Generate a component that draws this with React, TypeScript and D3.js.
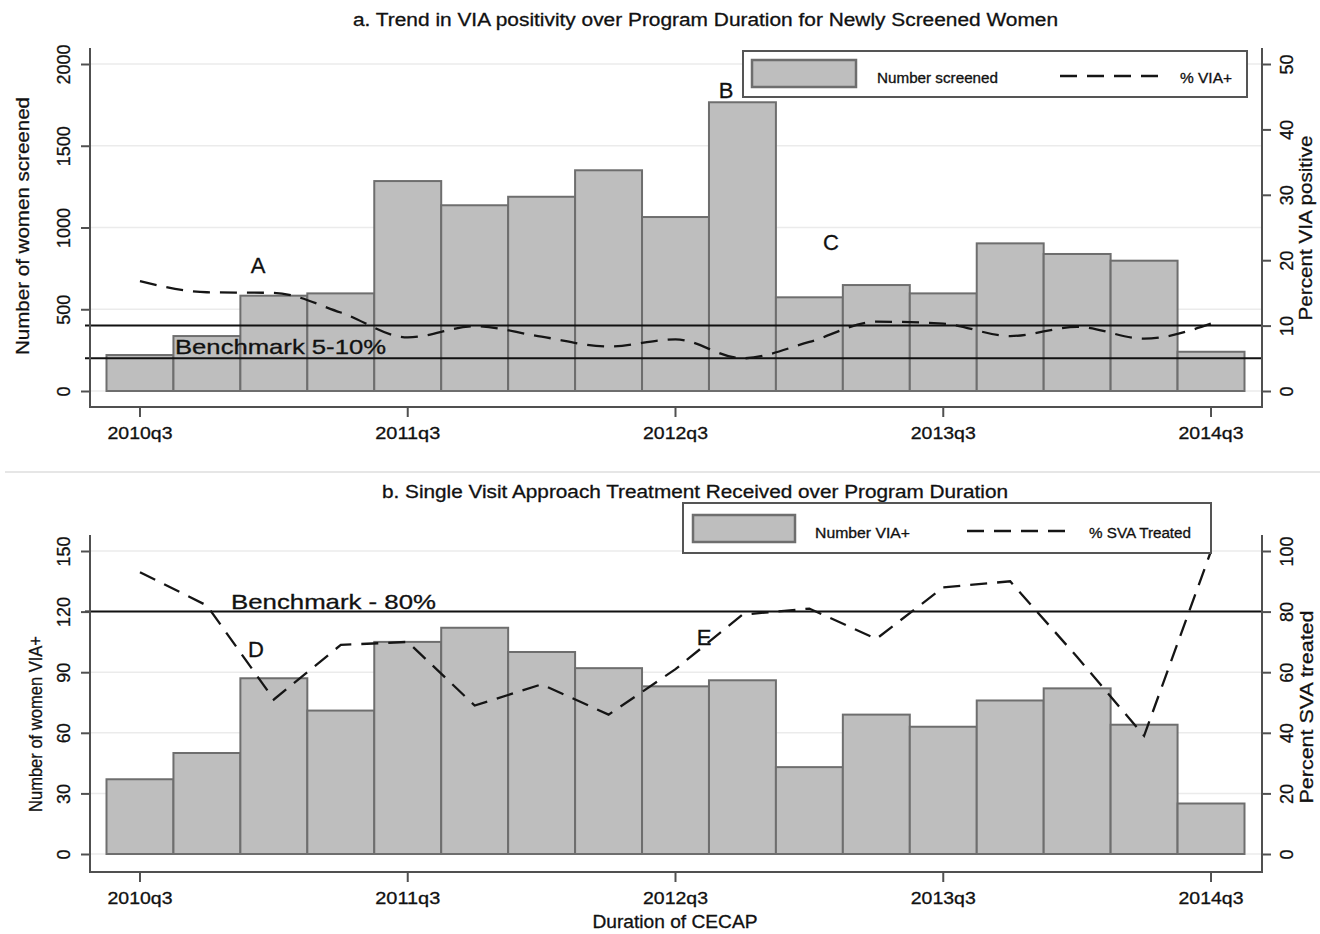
import React, { useEffect, useRef } from 'react';
import * as d3 from 'd3';

const quarters = ['2010q3', '2010q4', '2011q1', '2011q2', '2011q3', '2011q4', '2012q1', '2012q2', '2012q3',
  '2012q4', '2013q1', '2013q2', '2013q3', '2013q4', '2014q1', '2014q2', '2014q3'];
const tickQuarters = ['2010q3', '2011q3', '2012q3', '2013q3', '2014q3'];

// panel a
const numberScreened = [220, 336, 583, 597, 1284, 1136, 1188, 1350, 1064, 1766, 573, 648, 597, 903, 838, 797, 240];
const pctViaPositive = [16.8, 15.1, 15.0, 12.0, 8.2, 9.9, 8.3, 6.8, 7.9, 5.0, 7.5, 10.6, 10.3, 8.4, 9.8, 8.0, 10.3];
const leftTicksA = [0, 500, 1000, 1500, 2000];
const rightTicksA = [0, 10, 20, 30, 40, 50];
const benchmarksA = [5, 10];

// panel b
const numberViaPositive = [37, 50, 87, 71, 105, 112, 100, 92, 83, 86, 43, 69, 63, 76, 82, 64, 25];
const pctSvaTreated = [93, 82, 51, 69, 70, 49, 56, 46, 61, 79, 81, 71, 88, 90, 65, 39, 100];
const leftTicksB = [0, 30, 60, 90, 120, 150];
const rightTicksB = [0, 20, 40, 60, 80, 100];
const benchmarksB = [80];

const FONT = '"Liberation Sans", Arial, Helvetica, sans-serif';
const AXIS = '#505050';
const BAR_FILL = '#bebebe';
const BAR_EDGE = '#6e6e6e';
const LEFT = 90, RIGHT = 1262;

type Label = { text: string; x: number; y: number; len?: number; size?: number; anchor?: string };

type PanelDef = {
  top: number; bottom: number; y0: number; yTop: number;
  bars: number[]; pct: number[];
  leftTicks: number[]; rightTicks: number[]; benchmarks: number[];
  curve: d3.CurveFactory;
  title: Label; leftTitle: Label; rightTitle: Label;
  notes: Label[];
  legend: { box: number[]; swatch: number[]; name: Label; dash: number[]; pctName: Label };
};

const panels: PanelDef[] = [
  {
    top: 48, bottom: 407, y0: 391, yTop: 64,
    bars: numberScreened, pct: pctViaPositive,
    leftTicks: leftTicksA, rightTicks: rightTicksA, benchmarks: benchmarksA,
    curve: d3.curveMonotoneX,
    title: { text: 'a.  Trend in VIA positivity over Program Duration for Newly Screened Women', x: 353, y: 26, len: 705, size: 18 },
    leftTitle: { text: 'Number of women screened', x: 29, y: 226, len: 258, size: 19 },
    rightTitle: { text: 'Percent VIA positive', x: 1312, y: 228, len: 185, size: 19 },
    notes: [
      { text: 'A', x: 258, y: 273, size: 22, anchor: 'middle' },
      { text: 'B', x: 726, y: 98, size: 22, anchor: 'middle' },
      { text: 'C', x: 831, y: 250, size: 22, anchor: 'middle' },
      { text: 'Benchmark 5-10%', x: 175, y: 354, len: 211, size: 21 },
    ],
    legend: {
      box: [743, 51, 1247, 97], swatch: [752, 60, 856, 87],
      name: { text: 'Number screened', x: 877, y: 83, len: 121, size: 14 },
      dash: [1060, 1159, 76],
      pctName: { text: '% VIA+', x: 1180, y: 83, len: 52, size: 14 },
    },
  },
  {
    top: 535, bottom: 872, y0: 854, yTop: 551,
    bars: numberViaPositive, pct: pctSvaTreated,
    leftTicks: leftTicksB, rightTicks: rightTicksB, benchmarks: benchmarksB,
    curve: d3.curveLinear,
    title: { text: 'b.  Single Visit Approach Treatment Received over Program Duration', x: 382, y: 498, len: 626, size: 18 },
    leftTitle: { text: 'Number of women VIA+', x: 42, y: 724, len: 176, size: 19 },
    rightTitle: { text: 'Percent SVA treated', x: 1313, y: 707, len: 193, size: 19 },
    notes: [
      { text: 'D', x: 256, y: 657, size: 22, anchor: 'middle' },
      { text: 'E', x: 704, y: 645, size: 22, anchor: 'middle' },
      { text: 'Benchmark - 80%', x: 231, y: 609, len: 205, size: 21 },
    ],
    legend: {
      box: [683, 503, 1211, 553], swatch: [693, 515, 795, 542],
      name: { text: 'Number VIA+', x: 815, y: 538, len: 95, size: 14 },
      dash: [967, 1066, 531],
      pctName: { text: '% SVA Treated', x: 1089, y: 538, len: 102, size: 14 },
    },
  },
];

const addText = (g: any, l: Label, rotate = false) => {
  const t = g.append('text')
    .attr('font-family', FONT)
    .attr('font-size', l.size ?? 18)
    .attr('fill', '#111')
    .attr('stroke', '#111').attr('stroke-width', 0.3)
    .attr('text-anchor', l.anchor ?? (rotate ? 'middle' : 'start'))
    .attr('transform', rotate ? `translate(${l.x},${l.y}) rotate(-90)` : `translate(${l.x},${l.y})`)
    .text(l.text);
  if (l.len) t.attr('textLength', l.len).attr('lengthAdjust', 'spacingAndGlyphs');
  return t;
};

const drawPanel = (svg: any, p: PanelDef) => {
  const g = svg.append('g');
  const x = d3.scaleBand().domain(quarters).range([106.5, 1244.5]).paddingInner(0).paddingOuter(0);
  const maxLeft = p.leftTicks[p.leftTicks.length - 1];
  const maxRight = p.rightTicks[p.rightTicks.length - 1];
  const yLeft = d3.scaleLinear().domain([0, maxLeft]).range([p.y0, p.yTop]);
  const yRight = d3.scaleLinear().domain([0, maxRight]).range([p.y0, p.yTop]);

  // gridlines
  g.append('g').selectAll('line').data(p.leftTicks).join('line')
    .attr('x1', LEFT).attr('x2', RIGHT)
    .attr('y1', (d: number) => yLeft(d)).attr('y2', (d: number) => yLeft(d))
    .attr('stroke', '#ebebeb').attr('stroke-width', 1.5);

  // bars
  g.append('g').selectAll('rect').data(p.bars).join('rect')
    .attr('x', (_: number, i: number) => x(quarters[i])!)
    .attr('width', x.bandwidth())
    .attr('y', (d: number) => yLeft(d))
    .attr('height', (d: number) => yLeft(0) - yLeft(d))
    .attr('fill', BAR_FILL).attr('stroke', BAR_EDGE).attr('stroke-width', 2);

  // benchmark lines
  g.append('g').selectAll('line').data(p.benchmarks).join('line')
    .attr('x1', LEFT - 5).attr('x2', RIGHT + 1)
    .attr('y1', (d: number) => yRight(d)).attr('y2', (d: number) => yRight(d))
    .attr('stroke', '#111').attr('stroke-width', 2);

  // percent line
  const line = d3.line<number>()
    .x((_, i) => x(quarters[i])! + x.bandwidth() / 2)
    .y(d => yRight(d))
    .curve(p.curve);
  g.append('path').datum(p.pct).attr('d', line)
    .attr('fill', 'none').attr('stroke', '#151515').attr('stroke-width', 2.3)
    .attr('stroke-dasharray', '17 10');

  // axes
  const styleAxis = (a: any) => {
    a.select('.domain').remove();
    a.selectAll('line').attr('stroke', AXIS).attr('stroke-width', 2);
    a.selectAll('text').attr('font-family', FONT).attr('font-size', 18).attr('fill', '#111')
      .attr('stroke', '#111').attr('stroke-width', 0.3);
  };
  const ax = g.append('g').attr('transform', `translate(0,${p.bottom})`)
    .call(d3.axisBottom(x).tickValues(tickQuarters).tickSize(10).tickPadding(10).tickSizeOuter(0));
  styleAxis(ax);
  ax.selectAll('text').attr('font-size', 17).attr('textLength', 65).attr('lengthAdjust', 'spacingAndGlyphs');

  const al = g.append('g').attr('transform', `translate(${LEFT},0)`)
    .call(d3.axisLeft(yLeft).tickValues(p.leftTicks).tickSize(9).tickSizeOuter(0).tickFormat(d3.format('d')));
  styleAxis(al);
  al.selectAll('text').attr('x', null).attr('dy', null)
    .attr('text-anchor', 'middle').attr('transform', 'translate(-20,0) rotate(-90)');

  const ar = g.append('g').attr('transform', `translate(${RIGHT},0)`)
    .call(d3.axisRight(yRight).tickValues(p.rightTicks).tickSize(9).tickSizeOuter(0).tickFormat(d3.format('d')));
  styleAxis(ar);
  ar.selectAll('text').attr('x', null).attr('dy', null)
    .attr('text-anchor', 'middle').attr('transform', 'translate(31,0) rotate(-90)');

  // axis lines
  const frame = d3.path();
  frame.moveTo(LEFT, p.top); frame.lineTo(LEFT, p.bottom); frame.lineTo(RIGHT, p.bottom); frame.lineTo(RIGHT, p.top);
  g.append('path').attr('d', frame.toString()).attr('fill', 'none').attr('stroke', AXIS).attr('stroke-width', 2);

  // texts
  addText(g, p.title);
  addText(g, p.leftTitle, true);
  addText(g, p.rightTitle, true);
  p.notes.forEach(n => addText(g, n));

  // legend
  const L = p.legend;
  const lg = g.append('g');
  lg.append('rect').attr('x', L.box[0]).attr('y', L.box[1])
    .attr('width', L.box[2] - L.box[0]).attr('height', L.box[3] - L.box[1])
    .attr('fill', '#fff').attr('stroke', '#555').attr('stroke-width', 2);
  lg.append('rect').attr('x', L.swatch[0]).attr('y', L.swatch[1])
    .attr('width', L.swatch[2] - L.swatch[0]).attr('height', L.swatch[3] - L.swatch[1])
    .attr('fill', BAR_FILL).attr('stroke', BAR_EDGE).attr('stroke-width', 2.5);
  addText(lg, L.name);
  lg.append('line').attr('x1', L.dash[0]).attr('x2', L.dash[1]).attr('y1', L.dash[2]).attr('y2', L.dash[2])
    .attr('stroke', '#151515').attr('stroke-width', 2.3).attr('stroke-dasharray', '17 10');
  addText(lg, L.pctName);
};

export default function App() {
  const svgRef = useRef<SVGSVGElement | null>(null);

  useEffect(() => {
    const svg = d3.select(svgRef.current);
    svg.selectAll('*').remove();
    svg.append('rect').attr('width', 1320).attr('height', 934).attr('fill', '#fff');
    // separator between the two graphs
    svg.append('line').attr('x1', 5).attr('x2', 1320).attr('y1', 472).attr('y2', 472)
      .attr('stroke', '#e6e6e6').attr('stroke-width', 2);
    panels.forEach(p => drawPanel(svg, p));
    addText(svg, { text: 'Duration of CECAP', x: 675, y: 928, len: 165, size: 18, anchor: 'middle' });
    return () => { svg.selectAll('*').remove(); };
  }, []);

  return (
    <svg ref={svgRef} width={1320} height={934}
      style={{ position: 'absolute', left: 0, top: 0, display: 'block' }} />
  );
}
